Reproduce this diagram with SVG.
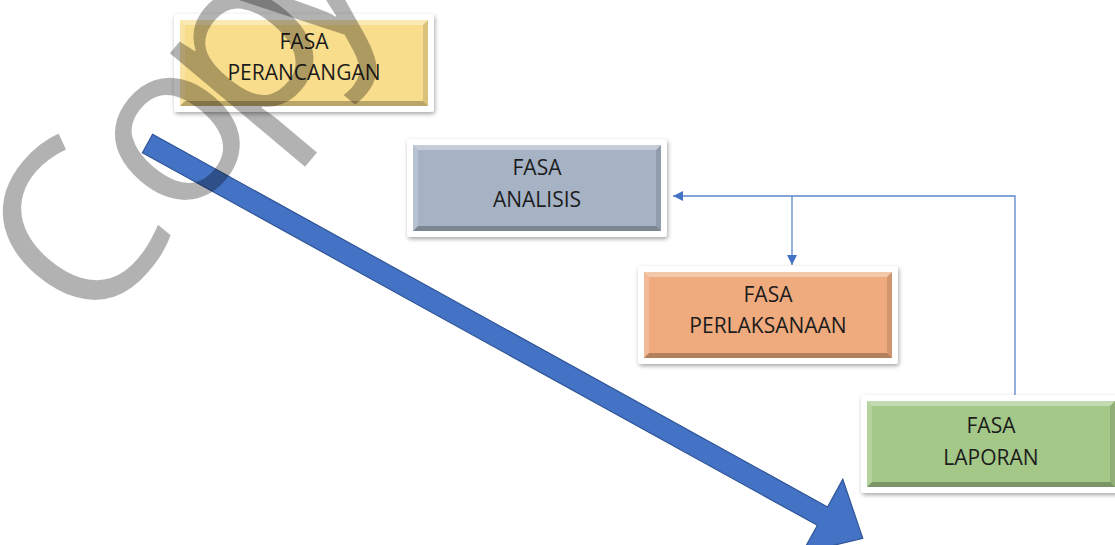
<svg xmlns="http://www.w3.org/2000/svg" xmlns:xlink="http://www.w3.org/1999/xlink" width="1115" height="545" viewBox="0 0 1115 545">
  <style>
    .frame { fill: #ffffff; filter: url(#shadow); }
    .label { font-family: "Open Sans", "Liberation Sans", sans-serif; font-size: 21px; fill: #1c1c1c; text-anchor: middle; }
    .conn { fill: none; stroke: #5b86d0; stroke-width: 1.3; }
    .watermark { font-family: "Open Sans", "Liberation Sans", sans-serif; font-size: 228px; fill: #000000; fill-opacity: 0.3; }
  </style>
  <defs>
    <filter id="shadow" x="-10%" y="-15%" width="120%" height="140%">
      <feDropShadow dx="1" dy="2" stdDeviation="2" flood-color="#000000" flood-opacity="0.35"/>
    </filter>
    <marker id="arrowhead" viewBox="0 0 10 10" refX="10" refY="5" markerWidth="10" markerHeight="10" markerUnits="userSpaceOnUse" orient="auto">
      <path d="M0,0 L10,5 L0,10 Z" fill="#4472c4"/>
    </marker>
    <symbol id="bevel" overflow="visible">
      <polygon points="0,0 248,0 243,5 5,5" fill="#ffffff" fill-opacity="0.35"/>
      <polygon points="0,0 5,5 5,81 0,86" fill="#ffffff" fill-opacity="0.2"/>
      <polygon points="248,0 248,86 243,81 243,5" fill="#000000" fill-opacity="0.12"/>
      <polygon points="0,86 5,81 243,81 248,86" fill="#000000" fill-opacity="0.25"/>
    </symbol>
  </defs>

  <rect width="1115" height="545" fill="#ffffff"/>

  <g id="node-perancangan" transform="translate(180,20)">
    <rect class="frame" x="-6" y="-6" width="260" height="98" rx="3"/>
    <rect x="0" y="0" width="248" height="86" fill="#f8dd8c"/>
    <use xlink:href="#bevel" href="#bevel"/>
    <text class="label" x="124" y="29">FASA</text>
    <text class="label" x="124" y="60">PERANCANGAN</text>
  </g>

  <g id="node-analisis" transform="translate(413,145)">
    <rect class="frame" x="-6" y="-6" width="260" height="98" rx="3"/>
    <rect x="0" y="0" width="248" height="86" fill="#a6b3c5"/>
    <use xlink:href="#bevel" href="#bevel"/>
    <text class="label" x="124" y="30">FASA</text>
    <text class="label" x="124" y="62">ANALISIS</text>
  </g>

  <g id="node-perlaksanaan" transform="translate(644,272)">
    <rect class="frame" x="-6" y="-6" width="260" height="98" rx="3"/>
    <rect x="0" y="0" width="248" height="86" fill="#efab7e"/>
    <use xlink:href="#bevel" href="#bevel"/>
    <text class="label" x="124" y="30">FASA</text>
    <text class="label" x="124" y="61">PERLAKSANAAN</text>
  </g>

  <g id="node-laporan" transform="translate(867,401)">
    <rect class="frame" x="-6" y="-6" width="260" height="98" rx="3"/>
    <rect x="0" y="0" width="248" height="86" fill="#a4c888"/>
    <use xlink:href="#bevel" href="#bevel"/>
    <text class="label" x="124" y="32">FASA</text>
    <text class="label" x="124" y="64">LAPORAN</text>
  </g>

  <g id="connectors">
    <path class="conn" d="M1015,395 L1015,196 L673,196" marker-end="url(#arrowhead)"/>
    <path class="conn" d="M792,196 L792,265" marker-end="url(#arrowhead)"/>
  </g>

  <g id="process-arrow">
    <polygon transform="translate(147.5,143.5) rotate(28.9)" points="0,-10.5 771,-10.5 771,-42 817,0 771,42 771,10.5 0,10.5" fill="#4472c4" stroke="#2f5597" stroke-width="1.2" stroke-linejoin="miter"/>
  </g>

  <g id="watermark">
    <text class="watermark" transform="translate(90,338) rotate(-50)" x="0 140 250 347" y="0">Copy</text>
  </g>
</svg>
